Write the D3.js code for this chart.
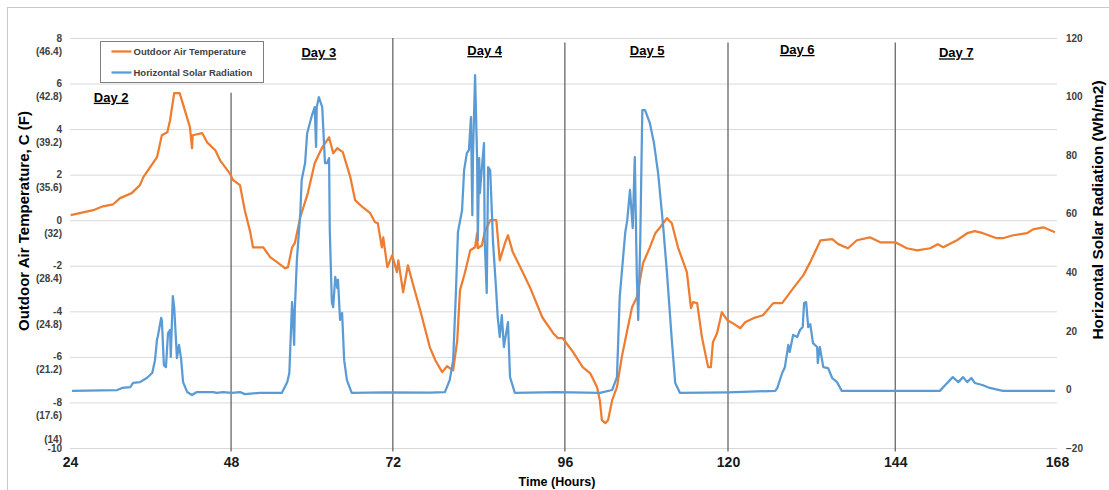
<!DOCTYPE html>
<html>
<head>
<meta charset="utf-8">
<script src="https://cdn.jsdelivr.net/npm/d3@7"></script>
<style>
  body { margin: 0; background: #fff; }
  svg { display: block; font-family: 'Liberation Sans', Arial, sans-serif; }
</style>
</head>
<body>
<svg width="1109" height="490"></svg>
<script>
'use strict'

// outdoor air temperature, hours vs deg C
const tempTime = [
  24.1, 27.4, 28.8, 30.3, 31.3, 33.0, 34.2, 34.7, 35.7, 36.7,
  37.4, 38.2, 38.6, 39.2, 40.0, 41.1, 41.5, 41.8, 41.9, 43.3,
  44.0, 45.2, 45.9, 47.3, 47.8, 48.8, 49.5, 50.3, 50.7, 52.2,
  53.2, 54.2, 55.4, 55.8, 56.4, 56.8, 57.6, 58.7, 59.7, 60.8,
  61.8, 62.4, 63.0, 63.8, 64.9, 65.6, 66.7, 67.8, 68.5, 68.9,
  69.5, 69.7, 70.3, 71.0, 71.7, 71.9, 72.6, 73.3, 74.0, 75.1,
  76.5, 77.3, 78.3, 79.0, 79.9, 80.5, 80.9, 81.6, 82.4, 83.1,
  83.4, 83.5, 84.1, 84.5, 85.3, 86.2, 86.7, 87.5, 87.9, 88.6,
  89.7, 91.1, 92.9, 94.5, 95.2, 95.9, 97.4, 98.8, 99.9, 100.9,
  101.3, 101.6, 102.1, 102.5, 103.1, 103.8, 104.5, 105.3, 106.0, 106.7,
  107.6, 108.6, 109.4, 110.1, 111.1, 111.8, 112.7, 114.0, 114.6, 114.9,
  115.5, 116.2, 117.1, 117.5, 117.8, 118.4, 119.1, 119.9, 120.7, 121.8,
  122.5, 123.7, 125.1, 126.6, 127.9, 129.5, 131.0, 132.0, 133.5, 135.2,
  136.1, 137.5, 138.8, 140.7, 142.2, 144.4, 146.1, 147.6, 149.5, 150.6,
  151.4, 153.4, 154.9, 156.0, 157.2, 159.2, 160.1, 161.6, 163.6, 164.5,
  166.0, 167.7
]
const tempC = [
  0.22, 0.44, 0.61, 0.70, 0.97, 1.19, 1.54, 1.89, 2.33, 2.77,
  3.73, 3.86, 4.39, 5.58, 5.58, 4.48, 4.08, 3.16, 3.73, 3.82,
  3.42, 3.07, 2.63, 2.06, 1.76, 1.54, 0.44, -0.53, -1.19, -1.19,
  -1.62, -1.84, -2.11, -2.06, -1.19, -1.01, 0.13, 1.19, 2.50, 3.20,
  3.64, 2.94, 3.16, 2.99, 1.89, 0.88, 0.57, 0.31, -0.09, -0.13,
  -1.19, -0.75, -2.06, -1.54, -2.28, -1.76, -3.16, -1.98, -2.77, -3.95,
  -5.58, -6.15, -6.67, -6.41, -6.59, -5.27, -3.07, -2.33, -1.32, -1.19,
  -0.57, -1.23, -1.10, -0.53, 0.00, 0.00, -1.76, -0.97, -0.66, -1.40,
  -2.06, -2.94, -4.26, -4.96, -5.18, -5.18, -5.79, -6.45, -6.72, -7.33,
  -7.90, -8.78, -8.91, -8.78, -7.90, -7.33, -6.01, -4.83, -3.82, -3.38,
  -1.89, -1.19, -0.57, -0.31, 0.09, -0.13, -1.19, -2.28, -3.86, -3.60,
  -3.64, -5.14, -6.45, -6.45, -5.36, -4.96, -4.04, -4.39, -4.52, -4.74,
  -4.48, -4.30, -4.17, -3.64, -3.64, -2.99, -2.41, -1.84, -0.88, -0.83,
  -1.05, -1.23, -0.88, -0.75, -0.97, -0.97, -1.23, -1.32, -1.23, -1.05,
  -1.19, -0.88, -0.57, -0.48, -0.57, -0.79, -0.79, -0.66, -0.57, -0.40,
  -0.31, -0.53
]

// horizontal solar radiation, hours vs Wh/m2
const solarTime = [
  24.3, 30.9, 31.6, 32.8, 33.2, 34.2, 35.2, 36.0, 36.4, 36.7,
  36.8, 37.3, 37.4, 37.7, 38.0, 38.3, 38.6, 38.7, 39.0, 39.2,
  39.5, 39.6, 39.9, 40.2, 40.5, 41.1, 41.8, 42.5, 44.9, 45.4,
  46.3, 47.6, 48.8, 49.5, 51.7, 54.9, 55.7, 56.0, 56.4, 56.5,
  56.7, 56.8, 57.1, 57.6, 57.8, 58.3, 58.6, 59.3, 59.7, 59.9,
  60.0, 60.3, 60.8, 61.2, 61.5, 61.8, 61.9, 62.2, 62.4, 62.7,
  63.0, 63.1, 63.4, 63.7, 64.0, 64.4, 65.1, 70.0, 76.5, 78.7,
  79.4, 79.9, 80.3, 80.6, 81.2, 81.5, 81.9, 82.2, 82.5, 82.7,
  82.8, 83.1, 83.4, 83.5, 83.7, 83.8, 84.1, 84.4, 84.5, 84.8,
  85.0, 85.3, 85.6, 85.7, 86.2, 86.4, 86.7, 87.0, 87.3, 87.9,
  88.2, 88.9, 95.0, 101.3, 103.1, 103.8, 104.2, 105.0, 105.3, 105.7,
  106.1, 106.4, 106.7, 106.9, 107.2, 107.5, 107.9, 108.6, 109.2, 109.8,
  110.5, 111.1, 111.8, 112.3, 113.0, 120.0, 126.9, 127.2, 127.9, 128.3,
  128.8, 129.0, 129.5, 130.1, 130.5, 130.9, 131.1, 131.4, 131.7, 132.0,
  132.4, 133.0, 133.1, 133.4, 133.9, 134.6, 135.2, 135.9, 136.6, 145.0,
  150.9, 151.7, 152.8, 153.6, 154.3, 154.9, 155.5, 156.0, 157.1, 158.2,
  160.1, 167.7
]
const solarWh = [
  -0.5, -0.2, 0.5, 0.8, 2.2, 2.5, 3.9, 5.6, 10, 17.2,
  17.9, 24.4, 23.7, 8.3, 7.6, 19.2, 20.3, 11.1, 31.9, 28.1,
  15.2, 10.7, 15.2, 10.7, 2.5, -0.9, -1.9, -0.9, -0.9, -1.2,
  -0.9, -1.2, -0.9, -1.6, -1.2, -1.2, 2.5, 5.6, 29.8, 26.1,
  15.2, 27.1, 44.2, 60.2, 71.5, 77.3, 87.5, 93.6, 96.4, 82.8,
  96.4, 99.8, 96.4, 77.3, 77.3, 79.0, 54.4, 29.8, 28.1, 38.4,
  34.6, 37.4, 23.7, 26.1, 10.0, 3.2, -1.2, -1.0, -1.1, -0.9,
  3.2, 10, 32.9, 53.7, 61.2, 74.9, 80.7, 81.7, 93, 59.5,
  80.7, 107.3, 78.3, 51.0, 79.0, 67.0, 75.9, 84.1, 51.0, 32.9,
  75.9, 74.9, 57.8, 51.0, 32.9, 24.7, 17.9, 25.4, 14.5, 23.0,
  4.2, -1.2, -0.9, -1.2, -0.2, 4.2, 31.5, 53.4, 57.8, 68.1,
  55.1, 79.3, 38.4, 23.7, 51.0, 95.4, 95.4, 90.9, 84.1, 73.9,
  56.8, 39.7, 16.9, 2.2, -1.2, -1.0, -0.5, 0.5, 5.6, 7.6,
  15.2, 12.8, 18.6, 17.9, 20.3, 21.3, 29.5, 29.8, 21.3, 22.3,
  15.8, 14.5, 9.0, 14.5, 7.6, 7.3, 3.9, 2.5, -0.5, -0.5,
  -0.5, 1.5, 4.2, 2.5, 4.2, 2.5, 3.9, 2.2, 1.5, 0.5,
  -0.5, -0.5
]

// the day separators and hour labels sit where the picture has them
const dayLines = [47.5, 71.1, 96.2, 120.0, 144.4]
const dayLineTop = [5.6, 8, 7.8, 7.8, 7.8]
const xTicks = [24, ...dayLines, 168]
const xTickLabels = ['24', '48', '72', '96', '120', '144', '168']
const tempTicks = [-10, -8, -6, -4, -2, 0, 2, 4, 6, 8]
const tempTickF = ['(14)', '(17.6)', '(21.2)', '(24.8)', '(28.4)', '(32)', '(35.6)', '(39.2)', '(42.8)', '(46.4)']
const solarTicks = [-20, 0, 20, 40, 60, 80, 100, 120]

const dayNames = ['Day 2', 'Day 3', 'Day 4', 'Day 5', 'Day 6', 'Day 7']
const dayNameHour = [30.0, 60.3, 84.5, 108.2, 130.1, 153.3]
const dayNameTemp = [5.4, 7.35, 7.45, 7.45, 7.5, 7.35]

const seriesNames = ['Outdoor Air Temperature', 'Horizontal Solar Radiation']
const orange = '#ED7D31'
const blue = '#5B9BD5'

const svg = d3.select('body svg')

const xScale = d3.scaleLinear().domain([24, 168]).range([70, 1057])
const yTemp = d3.scaleLinear().domain([-10, 8]).range([448, 38])
const ySolar = d3.scaleLinear().domain([-20, 120]).range([448, 38])

// chart frame
svg.append('rect')
  .attr('x', 7.5).attr('y', 7.5)
  .attr('width', 1120).attr('height', 500)
  .style('fill', 'none')
  .style('stroke', '#c8c8c8')

// gridlines from the temperature axis
const grid = d3.axisLeft(yTemp)
  .tickValues(tempTicks)
  .tickSize(-(xScale.range()[1] - xScale.range()[0]))
  .tickFormat('')
svg.append('g').classed('grid', true)
  .attr('transform', `translate(${xScale.range()[0]}, 0)`)
  .call(grid)
svg.select('g.grid path.domain').remove()
svg.selectAll('g.grid g.tick line')
  .style('stroke', '#d9d9d9')
  .style('stroke-width', '1')

// left tick labels: C with F below
const leftTicks = svg.append('g').classed('leftLabels', true)
  .selectAll('g')
  .data(tempTicks)
  .enter()
  .append('g')
  .attr('transform', (d) => `translate(62, ${yTemp(d)})`)
leftTicks.append('text')
  .attr('text-anchor', 'end')
  .attr('dy', '0.35em')
  .style('font-size', '10px')
  .style('font-weight', 'bold')
  .style('fill', '#404040')
  .text((d) => d)
leftTicks.append('text')
  .attr('text-anchor', 'end')
  .attr('y', (d) => d === -10 ? -9 : 13)
  .attr('dy', '0.35em')
  .style('font-size', '10px')
  .style('font-weight', 'bold')
  .style('fill', '#404040')
  .text((d, i) => tempTickF[i])

// right tick labels
const rightAxis = d3.axisRight(ySolar)
  .tickValues(solarTicks)
  .tickSize(0)
  .tickPadding(9)
svg.append('g').classed('rightAxis', true)
  .attr('transform', 'translate(1057, 0)')
  .call(rightAxis)
svg.select('g.rightAxis path.domain').remove()
svg.selectAll('g.rightAxis text')
  .style('font-family', "'Liberation Sans', Arial, sans-serif")
  .style('font-size', '10px')
  .style('font-weight', 'bold')
  .style('fill', '#404040')

// bottom tick labels
const xAxis = d3.axisBottom(xScale)
  .tickValues(xTicks)
  .tickFormat((d, i) => xTickLabels[i])
  .tickSize(0)
  .tickPadding(9)
svg.append('g').classed('xAxis', true)
  .attr('transform', `translate(0, ${yTemp(-10)})`)
  .call(xAxis)
svg.select('g.xAxis path.domain').remove()
svg.selectAll('g.xAxis text')
  .style('font-family', "'Liberation Sans Narrow', 'Liberation Sans', Arial, sans-serif")
  .style('font-size', '14px')
  .style('font-weight', 'bold')
  .style('fill', '#1a1a1a')

// day separators
svg.append('g').classed('days', true)
  .selectAll('line')
  .data(dayLines)
  .enter()
  .append('line')
  .attr('x1', (d) => xScale(d))
  .attr('x2', (d) => xScale(d))
  .attr('y1', (d, i) => yTemp(dayLineTop[i]))
  .attr('y2', yTemp(-10.15))
  .style('stroke', '#5a5a5a')
  .style('stroke-width', '1.2')

svg.append('g').classed('dayNames', true)
  .selectAll('text')
  .data(dayNames)
  .enter()
  .append('text')
  .attr('x', (d, i) => xScale(dayNameHour[i]))
  .attr('y', (d, i) => yTemp(dayNameTemp[i]))
  .attr('dy', '0.35em')
  .attr('text-anchor', 'middle')
  .style('font-size', '13px')
  .style('font-weight', 'bold')
  .style('text-decoration', 'underline')
  .style('fill', '#000')
  .text((d) => d)

// series
const tempLine = d3.line()
  .defined((d) => d[1] !== undefined)
  .x((d) => xScale(d[0]))
  .y((d) => yTemp(d[1]))
const solarLine = d3.line()
  .defined((d) => d[1] !== undefined)
  .x((d) => xScale(d[0]))
  .y((d) => ySolar(d[1]))

svg.append('path').classed('temp', true)
  .datum(d3.zip(tempTime, tempC))
  .attr('d', tempLine)
  .style('fill', 'none')
  .style('stroke', orange)
  .style('stroke-width', '2.25')
  .style('stroke-linejoin', 'round')

svg.append('path').classed('solar', true)
  .datum(d3.zip(solarTime, solarWh))
  .attr('d', solarLine)
  .style('fill', 'none')
  .style('stroke', blue)
  .style('stroke-width', '2.25')
  .style('stroke-linejoin', 'round')

// legend
const legend = svg.append('g').classed('legend', true)
  .attr('transform', 'translate(100.5, 41.5)')
legend.append('rect')
  .attr('width', 163).attr('height', 41)
  .style('fill', '#fff')
  .style('stroke', '#7f7f7f')
const legendItems = legend.selectAll('g.item')
  .data(seriesNames)
  .enter()
  .append('g').classed('item', true)
  .attr('transform', (d, i) => `translate(0, ${10 + i * 21})`)
legendItems.append('line')
  .attr('x1', 11).attr('x2', 31)
  .style('stroke', (d, i) => i === 0 ? orange : blue)
  .style('stroke-width', '2.25')
legendItems.append('text')
  .attr('x', 33)
  .attr('dy', '0.35em')
  .style('font-size', '9.5px')
  .style('font-weight', 'bold')
  .style('fill', '#404040')
  .text((d) => d)

// axis titles
svg.append('text')
  .attr('transform', 'translate(24, 221) rotate(-90)')
  .attr('text-anchor', 'middle')
  .attr('dy', '0.35em')
  .style('font-size', '15px')
  .style('font-weight', 'bold')
  .style('fill', '#000')
  .text('Outdoor Air Temperature, C (F)')

svg.append('text')
  .attr('transform', 'translate(1098, 210) rotate(-90)')
  .attr('text-anchor', 'middle')
  .attr('dy', '0.35em')
  .style('font-size', '15.5px')
  .style('font-weight', 'bold')
  .style('fill', '#000')
  .text('Horizontal Solar Radiation (Wh/m2)')

svg.append('text')
  .attr('x', 557).attr('y', 482)
  .attr('text-anchor', 'middle')
  .attr('dy', '0.35em')
  .style('font-size', '12.5px')
  .style('font-weight', 'bold')
  .style('fill', '#000')
  .text('Time (Hours)')
</script>
</body>
</html>
